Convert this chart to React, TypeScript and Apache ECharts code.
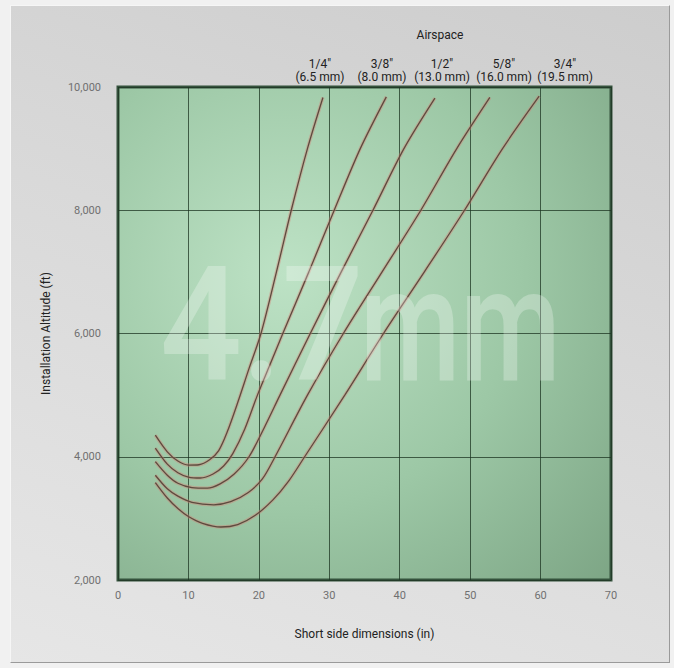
import React, { useEffect, useRef } from "react";
import * as echarts from "echarts";

// ---- data ----
const xTicks = { min: 0, max: 70, interval: 10 };
const yTicks = { min: 2000, max: 10000, interval: 2000 };

const airspaceInch = ["1/4\u2033", "3/8\u2033", "1/2\u2033", "5/8\u2033", "3/4\u2033"];
const airspaceMm = ["(6.5 mm)", "(8.0 mm)", "(13.0 mm)", "(16.0 mm)", "(19.5 mm)"];

const curve6_5mm = [[5.3, 4350], [7, 4080], [8.5, 3930], [10, 3865], [11.5, 3870], [13, 3950], [14.3, 4100], [15.5, 4400], [17, 4880], [18.6, 5430], [20.3, 6000], [22.5, 7000], [24.6, 8000], [26.9, 9000], [29.1, 9830]];
const curve8_0mm = [[5.3, 4140], [7, 3880], [8.5, 3740], [10, 3670], [11.7, 3655], [13.5, 3720], [15, 3850], [16.3, 4050], [18, 4450], [19.8, 5000], [21.6, 5500], [23.4, 6000], [27.1, 7000], [30.7, 8000], [34.4, 9000], [38.1, 9840]];
const curve13_0mm = [[5.3, 3920], [7, 3700], [8.5, 3570], [10.5, 3500], [12.7, 3490], [14.5, 3560], [16.5, 3720], [18.6, 4000], [20.8, 4480], [23.0, 5000], [27.3, 6000], [31.7, 7000], [36.2, 8000], [40.6, 9000], [45.0, 9820]];
const curve16_0mm = [[5.3, 3700], [7, 3480], [8.5, 3360], [10.5, 3260], [13.6, 3220], [16, 3270], [18.5, 3420], [20.5, 3640], [22.3, 4000], [26.9, 5000], [32.0, 6000], [37.5, 7000], [43.0, 8000], [48.1, 9000], [52.8, 9830]];
const curve19_5mm = [[5.3, 3580], [7, 3330], [8.5, 3160], [10, 3030], [12, 2920], [14.6, 2860], [17, 2900], [19.5, 3050], [22, 3300], [24.2, 3600], [26.5, 4000], [32.2, 5000], [37.7, 6000], [43.5, 7000], [49.2, 8000], [54.6, 9000], [59.8, 9850]];

const curves = [curve6_5mm, curve8_0mm, curve13_0mm, curve16_0mm, curve19_5mm];

const labelCenters = [320, 382, 442, 504, 565];

export default function App() {
  const ref = useRef<HTMLDivElement>(null);
  useEffect(() => {
    if (!ref.current) return;
    const chart = echarts.init(ref.current, null, { renderer: "svg" });
    const series: any[] = [];
    curves.forEach((data, i) => {
      series.push({
        type: "line",
        name: airspaceMm[i] + "-halo",
        data,
        symbol: "none",
        smooth: 0.3,
        silent: true,
        lineStyle: { color: "rgba(215,125,115,0.4)", width: 3.5 },
        z: 2,
      });
      series.push({
        type: "line",
        name: airspaceMm[i],
        data,
        symbol: "none",
        smooth: 0.3,
        silent: true,
        lineStyle: { color: "#5e4a3e", width: 1.3 },
        z: 3,
      });
    });

    const graphics: any[] = [
      {
        type: "text",
        x: 440,
        y: 35,
        style: { text: "Airspace", align: "center", verticalAlign: "middle", font: "12px Roboto", fill: "#222" },
      },
    ];
    airspaceInch.forEach((t, i) => {
      graphics.push({
        type: "text",
        x: labelCenters[i],
        y: 64,
        style: { text: t, align: "center", verticalAlign: "middle", font: "12px Roboto", fill: "#222" },
      });
      graphics.push({
        type: "text",
        x: labelCenters[i],
        y: 77,
        style: { text: airspaceMm[i], align: "center", verticalAlign: "middle", font: "12px Roboto", fill: "#222" },
      });
    });
    graphics.push({
      type: "text",
      x: 160,
      y: 325,
      scaleX: 0.9,
      z: 100,
      silent: true,
      style: { text: "4.7", align: "left", verticalAlign: "middle", font: "500 160px Roboto", fill: "rgba(255,255,255,0.27)" },
    });
    graphics.push({
      type: "text",
      x: 360,
      y: 325,
      scaleX: 0.72,
      z: 100,
      silent: true,
      style: { text: "mm", align: "left", verticalAlign: "middle", font: "500 160px Roboto", fill: "rgba(255,255,255,0.27)" },
    });

    chart.setOption({
      animation: false,
      backgroundColor: "transparent",
      grid: {
        left: 118,
        right: 63,
        top: 87,
        bottom: 88,
        show: true,
        borderColor: "#34523c",
        borderWidth: 3,
        backgroundColor: new echarts.graphic.RadialGradient(0.34, 0.38, 0.95, [
          { offset: 0, color: "#bde2c5" },
          { offset: 0.5, color: "#9dc8a6" },
          { offset: 1, color: "#7aa282" },
        ]),
      },
      xAxis: {
        type: "value",
        min: xTicks.min,
        max: xTicks.max,
        interval: xTicks.interval,
        axisLine: { show: false },
        axisTick: { show: false },
        splitLine: { show: true, lineStyle: { color: "rgba(28,52,33,0.75)", width: 1 } },
        axisLabel: { color: "#707070", fontSize: 11, fontFamily: "Roboto", margin: 10 },
        name: "Short side dimensions (in)",
        nameLocation: "middle",
        nameGap: 48,
        nameTextStyle: { color: "#222", fontSize: 12, fontFamily: "Roboto" },
      },
      yAxis: {
        type: "value",
        min: yTicks.min,
        max: yTicks.max,
        interval: yTicks.interval,
        axisLine: { show: false },
        axisTick: { show: false },
        splitLine: { show: true, lineStyle: { color: "rgba(28,52,33,0.75)", width: 1 } },
        axisLabel: {
          color: "#707070",
          fontSize: 11,
          fontFamily: "Roboto",
          margin: 17,
          formatter: (v: number) => v.toLocaleString("en-US"),
        },
        name: "Installation Altitude (ft)",
        nameLocation: "middle",
        nameGap: 66,
        nameTextStyle: { color: "#222", fontSize: 12, fontFamily: "Roboto" },
      },
      graphic: graphics,
      series,
    });
    return () => chart.dispose();
  }, []);

  return (
    <div style={{ position: "absolute", left: 0, top: 0, width: 674, height: 668, background: "#f1f1f1", overflow: "hidden" }}>
      <div
        style={{
          position: "absolute",
          left: 10,
          top: 5,
          width: 658,
          height: 656,
          background: "linear-gradient(200deg, #cdcdcd 0%, #d9d9d9 45%, #e6e6e6 100%)",
          borderStyle: "solid",
          borderWidth: 1,
          borderColor: "#f6f6f6 #9a9a9a #9a9a9a #f6f6f6",
        }}
      />
      <div ref={ref} style={{ position: "absolute", left: 0, top: 0, width: 674, height: 668 }} />
    </div>
  );
}
